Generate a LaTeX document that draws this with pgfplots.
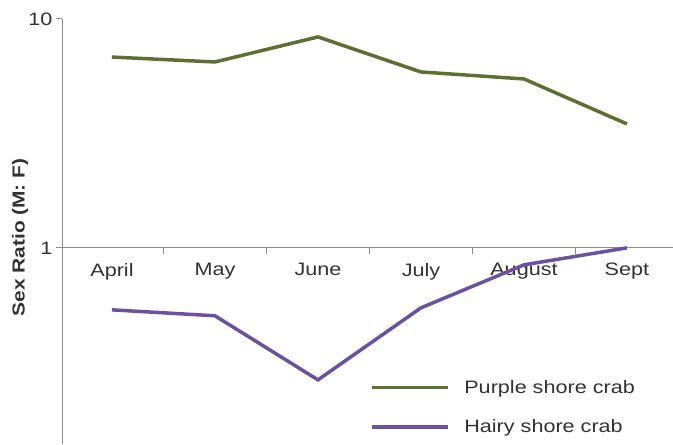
\documentclass[border=0pt]{standalone}
\usepackage{pgfplots}
\pgfplotsset{compat=1.18}
\usepackage{fontspec}
\setmainfont[FakeStretch=1.2]{Liberation Sans}
\definecolor{crabgreen}{RGB}{92,112,50}
\definecolor{crabpurple}{RGB}{108,82,158}
\definecolor{axgray}{RGB}{140,140,140}
\definecolor{txtgray}{RGB}{50,50,50}
\begin{document}
\begin{tikzpicture}
\begin{axis}[
  name=ax,
  scale only axis,
  width=611pt, height=425pt,
  ymode=log,
  ymin=0.139, ymax=10,
  xmin=0.515, xmax=6.447,
  axis y line=left,
  axis x line=middle,
  axis line style={-, axgray, line width=1pt},
  ytick={1,10},
  yticklabels={1,10},
  yminorticks=false,
  yticklabel style={font=\fontsize{18}{20}\selectfont, text=txtgray},
  ytick style={axgray, line width=1pt},
  ytick align=outside,
  major tick length=6pt,
  xtick={1.5,2.5,3.5,4.5,5.5},
  xticklabels={},
  xtick style={axgray, line width=1pt},
  xtick align=outside,
  extra x ticks={1,2,3,4,5,6},
  extra x tick labels={April,May,June,July,August,Sept},
  extra x tick style={major tick length=0pt, xticklabel style={font=\fontsize{18}{20}\selectfont, text=txtgray, yshift=-12pt}},
  /pgf/number format/assume math mode=true,
  ylabel={Sex Ratio (M: F)},
  ylabel style={font=\fontsize{17.4}{20}\bfseries\selectfont, text=txtgray, at={(axis description cs:-0.0687,0.486)}, anchor=center},
  clip=false,
  legend style={draw=none, fill=none, at={(axis description cs:0.5035,0.155)}, anchor=north west,
    font=\fontsize{18}{20}\selectfont, text=txtgray, row sep=21pt, inner sep=0pt,
    /tikz/column sep=8pt,
    nodes={inner xsep=7pt}},
  legend cell align=left,
  legend image code/.code={\draw[#1, line width=3.5pt] (0pt,0pt) -- (76pt,0pt);},
]
\addplot[crabgreen, line width=3.5pt] coordinates {
  (1,6.82) (2,6.49) (3,8.35) (4,5.87) (5,5.47) (6,3.48)
};
\addlegendentry{Purple shore crab}
\addplot[crabpurple, line width=3.5pt] coordinates {
  (1,0.536) (2,0.505) (3,0.265) (4,0.547) (5,0.843) (6,1.0)
};
\addlegendentry{Hairy shore crab}
\end{axis}
\pgfresetboundingbox
\path[use as bounding box] ([xshift=-62pt]ax.south west) rectangle ([yshift=19pt]ax.north east);
\end{tikzpicture}
\end{document}
